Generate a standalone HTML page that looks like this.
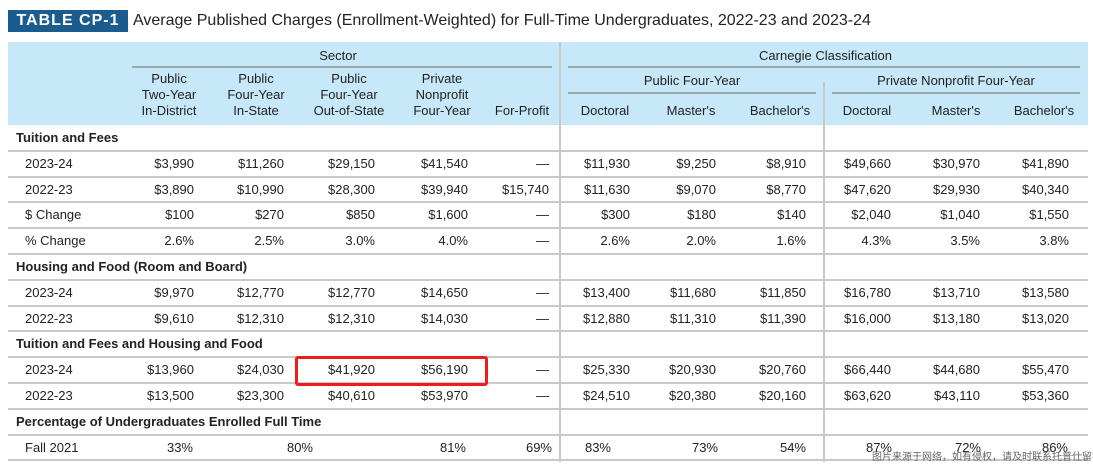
<!DOCTYPE html>
<html><head><meta charset="utf-8">
<style>
body{margin:0;width:1093px;height:469px;background:#fff;position:relative;overflow:hidden;font-family:"Liberation Sans","Noto Sans CJK SC",sans-serif;color:#222}
.a{position:absolute;white-space:nowrap}
.t{font-size:13px;line-height:16px}
.r{text-align:right}
.c{text-align:center}
.hl{position:absolute;height:2px;background:#c9c9c9}
.vl{position:absolute;width:2px;background:#c9c9c9}
.b{font-weight:bold}
</style></head><body>
<div class="a" style="left:8px;top:10px;width:120px;height:22px;background:#1c5b8e;color:#fff;font-weight:bold;font-size:16px;line-height:22px;text-align:center;letter-spacing:1px">TABLE CP-1</div>
<div class="a" style="left:133px;top:10px;font-size:16px;line-height:22px;color:#222">Average Published Charges (Enrollment-Weighted) for Full-Time Undergraduates, 2022-23 and 2023-24</div>
<div class="a" style="left:8px;top:42px;width:1080px;height:83px;background:#c6e8f8"></div>
<div class="a t c" style="left:123px;top:48px;width:430px">Sector</div>
<div class="hl" style="left:132px;top:66px;width:420px;height:1.5px;background:#9aa"></div>
<div class="a t c" style="left:568px;top:48px;width:515px">Carnegie Classification</div>
<div class="hl" style="left:568px;top:66px;width:512px;height:1.5px;background:#9aa"></div>
<div class="a t c" style="left:568px;top:73px;width:248px">Public Four-Year</div>
<div class="hl" style="left:568px;top:92px;width:248px;height:1.5px;background:#9aa"></div>
<div class="a t c" style="left:832px;top:73px;width:248px">Private Nonprofit Four-Year</div>
<div class="hl" style="left:832px;top:92px;width:248px;height:1.5px;background:#9aa"></div>
<div class="vl" style="left:559px;top:42px;height:420px"></div>
<div class="vl" style="left:823px;top:82px;height:380px"></div>
<div id="cells"></div>
<div class="a" style="left:295px;top:356px;width:187px;height:24px;border:3px solid #ee1c1c;border-radius:3px"></div>
<div class="a" style="left:872px;top:452px;font-size:10px;color:#666;line-height:12px">图片来源于网络，如有侵权，请及时联系托普仕留学删除</div>
<script>
const colHeaders=[["Public","Two-Year","In-District"],["Public","Four-Year","In-State"],["Public","Four-Year","Out-of-State"],["Private","Nonprofit","Four-Year"],["For-Profit"],["Doctoral"],["Master's"],["Bachelor's"],["Doctoral"],["Master's"],["Bachelor's"]];
const colCenters=[169,256,349,442,522,605,691,780,867,956,1044];
const colRights=[194,284,375,468,549,630,716,806,891,980,1069];
const rows=[
["h","Tuition and Fees"],
["d","2023-24",["$3,990","$11,260","$29,150","$41,540","—","$11,930","$9,250","$8,910","$49,660","$30,970","$41,890"]],
["d","2022-23",["$3,890","$10,990","$28,300","$39,940","$15,740","$11,630","$9,070","$8,770","$47,620","$29,930","$40,340"]],
["d","$ Change",["$100","$270","$850","$1,600","—","$300","$180","$140","$2,040","$1,040","$1,550"]],
["d","% Change",["2.6%","2.5%","3.0%","4.0%","—","2.6%","2.0%","1.6%","4.3%","3.5%","3.8%"]],
["h","Housing and Food (Room and Board)"],
["d","2023-24",["$9,970","$12,770","$12,770","$14,650","—","$13,400","$11,680","$11,850","$16,780","$13,710","$13,580"]],
["d","2022-23",["$9,610","$12,310","$12,310","$14,030","—","$12,880","$11,310","$11,390","$16,000","$13,180","$13,020"]],
["h","Tuition and Fees and Housing and Food"],
["d","2023-24",["$13,960","$24,030","$41,920","$56,190","—","$25,330","$20,930","$20,760","$66,440","$44,680","$55,470"]],
["d","2022-23",["$13,500","$23,300","$40,610","$53,970","—","$24,510","$20,380","$20,160","$63,620","$43,110","$53,360"]],
["h","Percentage of Undergraduates Enrolled Full Time"],
["f","Fall 2021",["33%","80%","81%","69%","83%","73%","54%","87%","72%","86%"]]
];
const fallRights=[193,313,466,552,611,718,806,892,981,1068];
const root=document.getElementById('cells');
function mk(cls,css,txt){const e=document.createElement('div');e.className=cls;e.style.cssText=css;e.textContent=txt;root.appendChild(e);return e;}
colHeaders.forEach((h,i)=>{
  const top=120-h.length*16-1;
  const e=mk('a t c',`left:${colCenters[i]-60}px;width:120px;top:${top}px`,'');
  e.innerHTML=h.join('<br>');
  
  
});
const rowH=25.8, top0=125;
rows.forEach((r,ri)=>{
  const y=top0+ri*rowH;
  const ln=mk('hl',`left:8px;width:1080px;top:${y+rowH-1}px`,'');
  
  
  const ty=y+5;
  if(r[0]==='h'){
    const e=mk('a t b',`left:16px;top:${ty}px`,r[1]);
    
    
  } else {
    const e=mk('a t',`left:25px;top:${ty}px`,r[1]);
    
    
    const rights=r[0]==='f'?fallRights:colRights;
    r[2].forEach((v,ci)=>{
      const c=mk('a t r',`left:${rights[ci]-100}px;width:100px;top:${ty}px`,v);
      
      
    });
  }
});
</script>
</body></html>
